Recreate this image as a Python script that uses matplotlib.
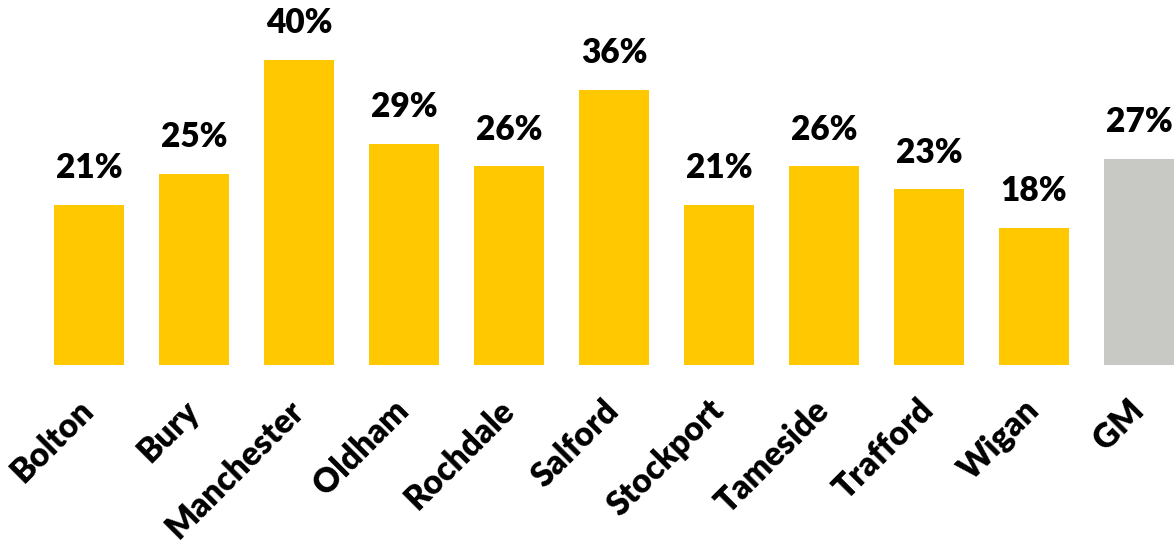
import numpy as np
import matplotlib.pyplot as plt

areas = ['Bolton', 'Bury', 'Manchester', 'Oldham', 'Rochdale', 'Salford',
         'Stockport', 'Tameside', 'Trafford', 'Wigan', 'GM']
share = [21, 25, 40, 29, 26, 36, 21, 26, 23, 18, 27]
colours = ['#FFC800'] * 10 + ['#C8C8C4']

plt.rcParams['font.family'] = ['Lato', 'DejaVu Sans']

fig = plt.figure(figsize=(11.76, 5.45), dpi=100)
ax = fig.add_axes([0, 180 / 545, 1, 365 / 545])

x = np.arange(len(areas))
ax.bar(x, share, width=0.667, color=colours)

for xi, v in zip(x, share):
    ax.text(xi, v + 2.7, f'{v}%', ha='center', va='bottom',
            fontsize=24, fontweight='heavy', color='black')

ax.set_xlim(-89 / 105, (1176 - 89) / 105)
ax.set_ylim(0, 47.8)
ax.set_xticks(x)
ax.set_xticklabels(areas, rotation=45, ha='right', va='center',
                   rotation_mode='anchor', fontsize=24, fontweight='heavy')
ax.tick_params(axis='x', length=0, pad=29)
ax.set_yticks([])
for s in ax.spines.values():
    s.set_visible(False)

fig.savefig('out.png', dpi=100)
